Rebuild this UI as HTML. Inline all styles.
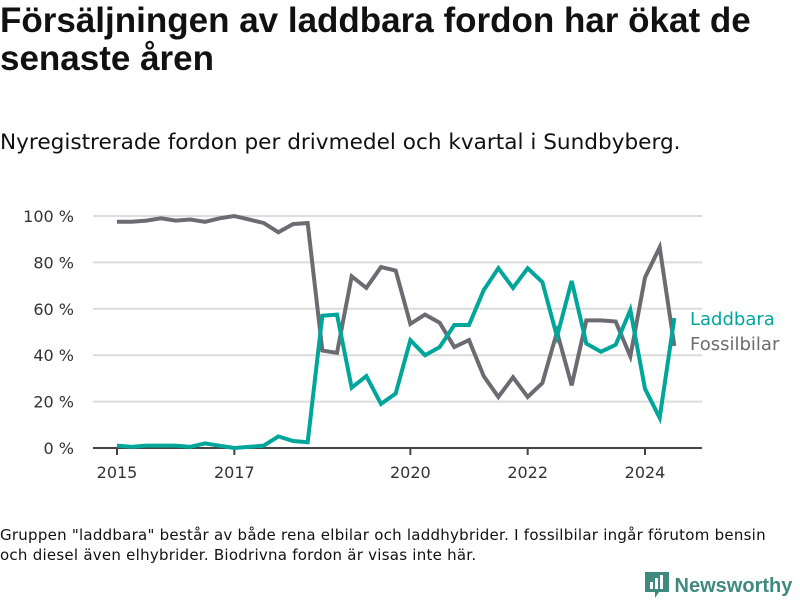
<!DOCTYPE html>
<html><head><meta charset="utf-8"><style>
body{margin:0;width:800px;height:600px;background:#fff;font-family:"DejaVu Sans","Liberation Sans",sans-serif;color:#111;overflow:hidden;position:relative}
h1{position:absolute;left:0;top:2px;margin:0;font-family:"Liberation Sans",sans-serif;font-size:35px;line-height:38px;font-weight:bold;width:800px;white-space:nowrap}
.sub{position:absolute;left:0;top:130px;font-size:21.6px}
.note{position:absolute;left:0;top:525px;font-size:15px;line-height:20px;letter-spacing:0.25px;white-space:nowrap}
.logo{position:absolute;left:645px;top:570px;font-size:20px;font-weight:bold;color:#3e8a7e;font-family:"Liberation Sans",sans-serif}
</style></head><body>
<h1>Försäljningen av laddbara fordon har ökat de<br>senaste åren</h1>
<div class="sub">Nyregistrerade fordon per drivmedel och kvartal i Sundbyberg.</div>
<svg id="c" width="800" height="600" style="position:absolute;left:0;top:0"></svg>
<div class="note">Gruppen "laddbara" består av både rena elbilar och laddhybrider. I fossilbilar ingår förutom bensin<br>och diesel även elhybrider. Biodrivna fordon är visas inte här.</div>
<div class="logo"><svg width="24" height="28" style="vertical-align:-6px"><path d="M0 2h24v20h-10l-4 6v-6H0z" fill="#3e8a7e"/><rect x="5" y="12" width="3" height="7" fill="#fff"/><rect x="10" y="8" width="3" height="11" fill="#fff"/><rect x="15" y="5" width="3" height="14" fill="#fff"/></svg> Newsworthy</div>
<script>
const laddbara=[1,0.5,1,1,1,0.5,2,1,0,0.5,1,5,3,2.5,57,57.5,26,31,19,23.5,46.5,40,43.5,53,53,68,77.5,69,77.5,71.5,48,72,45,41.5,44.5,59.5,25.5,13,56];
const fossil=[97.5,97.5,98,99,98,98.5,97.5,99,100,98.5,97,93,96.5,97,42,41,74,69,78,76.5,53.5,57.5,54,43.5,46.5,31,22,30.5,22,28,50,27,55,55,54.5,39.5,73.5,86.5,44];
const yTicks=[0,20,40,60,80,100];
const xTickYears=[2015,2017,2020,2022,2024];
const startYear=2015;
const svg=document.getElementById('c');const NS='http://www.w3.org/2000/svg';
const x=q=>117+q*14.667, xy=yr=>x((yr-startYear)*4), y=v=>448-v*2.32;
function el(t,a,p){const e=document.createElementNS(NS,t);for(const k in a)e.setAttribute(k,a[k]);(p||svg).appendChild(e);return e;}
yTicks.forEach(v=>{
 const l=el('line',{x1:93,x2:702,y1:y(v),y2:y(v),stroke:v?'#dcdcdc':'#444','stroke-width':2});
 
 
 const t=el('text',{x:74,y:y(v)+6,'text-anchor':'end','font-size':16,fill:'#333'});t.textContent=v+' %';
 
 
});
xTickYears.forEach(yr=>{
 const l=el('line',{x1:xy(yr),x2:xy(yr),y1:448,y2:455,stroke:'#444','stroke-width':2});
 
 
 const t=el('text',{x:xy(yr),y:478,'text-anchor':'middle','font-size':16,fill:'#333'});t.textContent=yr;
 
 
});
function line(d,c,n){const p=el('polyline',{points:d.map((v,i)=>x(i)+','+y(v)).join(' '),fill:'none',stroke:c,'stroke-width':4,'stroke-linejoin':'miter'});
 
 }
line(fossil,'#6d6b72','fossilbilar-line');
line(laddbara,'#00a69a','laddbara-line');
const a=el('text',{x:690,y:325,'font-size':18,fill:'#00a69a'});a.textContent='Laddbara';


const b=el('text',{x:690,y:350,'font-size':18,fill:'#6d6b72'});b.textContent='Fossilbilar';


</script>
</body></html>
